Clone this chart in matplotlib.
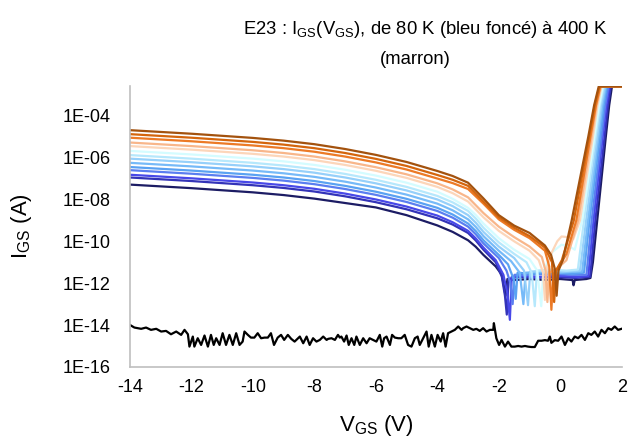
import numpy as np
import matplotlib.pyplot as plt

plt.rcParams['font.family'] = ['Liberation Sans', 'DejaVu Sans']
plt.rcParams['mathtext.fontset'] = 'custom'
plt.rcParams['mathtext.rm'] = 'Liberation Sans'
plt.rcParams['mathtext.default'] = 'regular'

# temperatures, dark blue (80 K) -> brown (400 K)
temps = [80, 100, 125, 150, 175, 200, 225, 250, 275, 300, 325, 350, 375, 400]
colors = ['#1c1c64', '#3333b8', '#4848e8', '#5a7ef0', '#5aa2f2', '#76baf8',
          '#96d0fa', '#b6e8fc', '#d4fcff', '#fcd6ba', '#f8b68a', '#ec7a26',
          '#d4650c', '#a3520e']

# common left part of the sweeps, log10(I_GS)
v_left = [-14, -12, -10, -9, -8, -7, -6, -5, -4, -3.5]
left_log = [
    [-7.29, -7.46, -7.66, -7.79, -7.96, -8.17, -8.38, -8.75, -9.24, -9.55],
    [-6.95, -7.12, -7.32, -7.45, -7.62, -7.85, -8.13, -8.47, -8.90, -9.20],
    [-6.82, -6.99, -7.19, -7.32, -7.49, -7.72, -8.00, -8.34, -8.77, -9.09],
    [-6.60, -6.77, -6.97, -7.10, -7.27, -7.50, -7.78, -8.12, -8.55, -8.87],
    [-6.45, -6.62, -6.82, -6.95, -7.12, -7.35, -7.63, -7.97, -8.40, -8.72],
    [-6.25, -6.42, -6.62, -6.75, -6.92, -7.15, -7.43, -7.77, -8.20, -8.52],
    [-6.05, -6.22, -6.42, -6.55, -6.72, -6.95, -7.23, -7.57, -8.00, -8.32],
    [-5.88, -6.05, -6.25, -6.38, -6.55, -6.78, -7.06, -7.40, -7.83, -8.14],
    [-5.68, -5.85, -6.05, -6.18, -6.35, -6.58, -6.86, -7.20, -7.63, -7.97],
    [-5.45, -5.62, -5.82, -5.95, -6.12, -6.35, -6.63, -6.97, -7.40, -7.70],
    [-5.28, -5.45, -5.65, -5.78, -5.95, -6.18, -6.46, -6.80, -7.23, -7.52],
    [-5.05, -5.22, -5.42, -5.55, -5.72, -5.95, -6.23, -6.57, -7.00, -7.22],
    [-4.88, -5.05, -5.25, -5.38, -5.55, -5.78, -6.06, -6.40, -6.83, -7.06],
    [-4.69, -4.86, -5.06, -5.19, -5.36, -5.59, -5.87, -6.21, -6.64, -6.88],
]

# right part: dip, floor and rise up to compliance
tail_v = [
    [-3, -2.75, -2.5, -2.1, -1.9, -1.78, -1.72, -1.5, -1.0, -0.5, 0.0, 0.4, 0.43, 0.47, 0.85, 0.98, 1.06, 1.20, 1.34, 1.48, 1.59, 1.68, 2.0],
    [-3, -2.75, -2.5, -2.1, -1.9, -1.8, -1.74, -1.68, -1.4, -0.8, -0.2, 0.5, 0.97, 1.14, 1.29, 1.44, 1.55, 1.64, 2.0],
    [-3, -2.75, -2.5, -2.1, -1.85, -1.72, -1.64, -1.58, -1.3, -0.7, 0.0, 0.6, 0.91, 1.08, 1.23, 1.38, 1.50, 1.59, 2.0],
    [-3, -2.75, -2.5, -2.0, -1.75, -1.62, -1.55, -1.49, -1.0, -0.3, 0.4, 0.85, 1.02, 1.18, 1.34, 1.46, 1.56, 2.0],
    [-3, -2.75, -2.5, -2.0, -1.7, -1.52, -1.45, -1.39, -0.9, -0.2, 0.4, 0.77, 0.95, 1.12, 1.29, 1.41, 1.51, 2.0],
    [-3, -2.75, -2.5, -2.0, -1.6, -1.32, -1.2, -1.13, -0.6, 0.0, 0.5, 0.71, 0.90, 1.07, 1.24, 1.37, 1.48, 2.0],
    [-3, -2.75, -2.5, -2.0, -1.5, -1.18, -1.05, -0.98, -0.5, 0.1, 0.64, 0.84, 1.02, 1.20, 1.33, 1.45, 2.0],
    [-3, -2.75, -2.5, -2.0, -1.5, -1.1, -0.93, -0.83, -0.76, -0.3, 0.2, 0.57, 0.77, 0.96, 1.15, 1.29, 1.41, 2.0],
    [-3, -2.75, -2.5, -2.0, -1.5, -1.0, -0.75, -0.62, -0.56, -0.45, -0.25, 0.04, 0.3, 0.47, 0.71, 0.91, 1.11, 1.26, 1.38, 2.0],
    [-3, -2.5, -2.0, -1.5, -1.0, -0.7, -0.56, -0.5, -0.44, -0.3, -0.1, 0.04, 0.25, 0.42, 0.64, 0.85, 1.06, 1.21, 1.34, 2.0],
    [-3, -2.5, -2.0, -1.5, -1.0, -0.6, -0.48, -0.42, -0.36, -0.1, 0.2, 0.58, 0.80, 1.02, 1.18, 1.32, 2.0],
    [-3, -2.5, -2.0, -1.5, -1.0, -0.5, -0.36, -0.29, -0.23, 0.0, 0.2, 0.52, 0.75, 0.98, 1.16, 1.30, 2.0],
    [-3, -2.5, -2.0, -1.5, -1.0, -0.5, -0.27, -0.2, -0.14, 0.05, 0.44, 0.69, 0.94, 1.12, 1.27, 2.0],
    [-3, -2.5, -2.0, -1.5, -1.0, -0.5, -0.3, -0.18, -0.12, -0.06, 0.08, 0.37, 0.64, 0.91, 1.10, 1.25, 2.0],
]
tail_log = [
    [-9.95, -10.26, -10.65, -11.2, -11.6, -12.6, -11.8, -11.85, -11.8, -11.85, -11.8, -11.85, -12.1, -11.85, -11.8, -11.75, -11.0, -9.0, -7.0, -5.0, -3.5, -2.6, -2.6],
    [-9.6, -9.96, -10.4, -11.0, -11.7, -12.6, -13.5, -11.8, -11.7, -11.75, -11.7, -11.75, -11.7, -9.0, -7.0, -5.0, -3.5, -2.6, -2.6],
    [-9.5, -9.86, -10.3, -10.9, -11.6, -12.5, -13.75, -11.7, -11.65, -11.7, -11.65, -11.7, -11.65, -9.0, -7.0, -5.0, -3.5, -2.6, -2.6],
    [-9.3, -9.66, -10.1, -10.8, -11.4, -12.0, -13.0, -11.6, -11.6, -11.55, -11.6, -11.6, -9.0, -7.0, -5.0, -3.5, -2.6, -2.6],
    [-9.15, -9.51, -9.95, -10.65, -11.1, -11.8, -12.75, -11.5, -11.55, -11.5, -11.55, -11.5, -9.0, -7.0, -5.0, -3.5, -2.6, -2.6],
    [-8.95, -9.31, -9.75, -10.45, -10.95, -11.5, -13.0, -11.5, -11.45, -11.5, -11.45, -11.45, -9.0, -7.0, -5.0, -3.5, -2.6, -2.6],
    [-8.75, -9.11, -9.55, -10.25, -10.8, -11.4, -13.05, -11.45, -11.4, -11.45, -11.4, -9.0, -7.0, -5.0, -3.5, -2.6, -2.6],
    [-8.55, -8.91, -9.35, -10.05, -10.6, -11.0, -11.5, -13.1, -11.4, -11.35, -11.4, -11.35, -9.0, -7.0, -5.0, -3.5, -2.6, -2.6],
    [-8.4, -8.74, -9.15, -9.85, -10.4, -10.85, -11.4, -13.1, -11.6, -11.1, -10.5, -10.16, -10.25, -10.4, -9.0, -7.0, -5.0, -3.5, -2.6, -2.6],
    [-8.1, -8.85, -9.5, -10.0, -10.45, -10.9, -11.5, -12.8, -11.3, -10.6, -10.0, -9.77, -9.8, -9.9, -9.0, -7.0, -5.0, -3.5, -2.6, -2.6],
    [-7.9, -8.65, -9.3, -9.8, -10.25, -10.75, -11.4, -12.9, -11.5, -11.3, -10.9, -9.0, -7.0, -5.0, -3.5, -2.6, -2.6],
    [-7.5, -8.2, -8.95, -9.45, -9.85, -10.45, -11.2, -13.27, -11.6, -11.1, -10.6, -9.0, -7.0, -5.0, -3.5, -2.6, -2.6],
    [-7.35, -8.1, -8.85, -9.35, -9.75, -10.3, -11.0, -12.9, -11.4, -10.9, -9.0, -7.0, -5.0, -3.5, -2.6, -2.6],
    [-7.2, -7.95, -8.75, -9.25, -9.6, -10.2, -10.65, -11.3, -12.6, -11.4, -10.9, -9.0, -7.0, -5.0, -3.5, -2.6, -2.6],
]

# noise floor of the setup (black)
black_v = [-14.0, -13.85, -13.63, -13.47, -13.31, -13.14, -12.98, -12.82, -12.66, -12.49,
           -12.33, -12.22, -12.11, -12.06, -11.95, -11.90, -11.79, -11.68, -11.57, -11.46,
           -11.36, -11.27, -11.19, -11.08, -10.98, -10.87, -10.76, -10.65, -10.54, -10.43,
           -10.33, -10.27, -10.16, -10.06, -9.95, -9.84, -9.73, -9.62, -9.51, -9.41,
           -9.31, -9.19, -9.08, -8.98, -8.86, -8.75, -8.64, -8.47, -8.36, -8.25,
           -8.15, -8.04, -7.93, -7.82, -7.71, -7.60, -7.55, -7.44, -7.33, -7.23,
           -7.17, -7.12, -7.03, -6.95, -6.88, -6.79, -6.70, -6.63, -6.52, -6.41,
           -6.30, -6.20, -6.09, -5.98, -5.87, -5.79, -5.73, -5.65, -5.54, -5.47,
           -5.38, -5.27, -5.17, -5.06, -4.95, -4.84, -4.73, -4.64, -4.57, -4.46,
           -4.35, -4.28, -4.19, -4.08, -3.99, -3.89, -3.81, -3.73, -3.65, -3.54,
           -3.43, -3.32, -3.21, -3.16, -3.05, -2.94, -2.83, -2.73, -2.62, -2.51,
           -2.40, -2.29, -2.18, -2.16, -2.08, -1.99, -1.91, -1.80, -1.70, -1.59,
           -1.48, -1.37, -1.26, -1.15, -1.05, -0.94, -0.83, -0.72, -0.61, -0.50,
           -0.40, -0.34, -0.29, -0.18, -0.07, 0.04, 0.15, 0.26, 0.36, 0.47,
           0.58, 0.69, 0.80, 0.91, 1.01, 1.12, 1.23, 1.34, 1.45, 1.56,
           1.66, 1.77, 1.88, 1.99]
black_log = [-13.99, -14.12, -14.18, -14.12, -14.23, -14.18, -14.31, -14.28, -14.44, -14.31,
             -14.47, -14.23, -14.44, -15.03, -14.55, -15.03, -14.63, -14.95, -14.50, -15.03,
             -14.47, -14.95, -14.63, -14.95, -14.39, -14.95, -14.47, -14.95, -14.39, -14.95,
             -14.79, -14.31, -14.47, -14.60, -14.60, -14.39, -14.63, -14.60, -14.60, -14.39,
             -14.95, -14.60, -14.47, -14.71, -14.47, -14.66, -14.79, -14.55, -14.87, -14.55,
             -14.95, -14.63, -14.79, -14.71, -14.55, -14.71, -14.66, -14.63, -14.71, -14.47,
             -14.60, -14.55, -14.79, -14.50, -14.95, -14.63, -14.95, -14.55, -14.95, -14.63,
             -14.87, -14.63, -14.71, -14.79, -14.47, -15.03, -14.63, -14.55, -14.95, -14.47,
             -14.60, -14.63, -14.63, -14.47, -14.95, -15.03, -14.63, -14.55, -14.95, -14.63,
             -14.31, -15.03, -14.47, -15.03, -14.47, -14.79, -14.39, -15.03, -14.39, -14.31,
             -14.23, -14.07, -14.23, -14.15, -14.07, -14.15, -14.23, -14.18, -14.28, -14.15,
             -14.31, -14.23, -14.23, -13.91, -14.63, -14.95, -14.71, -15.03, -14.79, -15.03,
             -15.03, -15.00, -15.03, -15.00, -15.03, -15.05, -15.05, -14.75, -14.75, -14.72,
             -14.75, -14.55, -14.85, -14.72, -14.75, -14.55, -14.95, -14.63, -14.79, -14.55,
             -14.63, -14.47, -14.71, -14.39, -14.47, -14.31, -14.55, -14.23, -14.39, -14.15,
             -14.23, -14.07, -14.23, -14.18]

ytick_vals = [1e-16, 1e-14, 1e-12, 1e-10, 1e-08, 1e-06, 1e-04]
ytick_labels = ['1E-16', '1E-14', '1E-12', '1E-10', '1E-08', '1E-06', '1E-04']
xtick_vals = [-14, -12, -10, -8, -6, -4, -2, 0, 2]

fig = plt.figure(figsize=(6.3, 4.41), dpi=100)
ax = fig.add_axes([0.206, 0.168, 0.781, 0.637])

ax.plot(black_v, 10.0 ** np.array(black_log), color='black', lw=1.6)
for i in range(len(temps)):
    v = v_left + tail_v[i]
    logi = left_log[i] + tail_log[i]
    ax.plot(v, 10.0 ** np.array(logi), color=colors[i], lw=1.6)

ax.set_yscale('log')
ax.set_xlim(-14, 2)
ax.set_ylim(1e-16, 10 ** -2.58)
ax.set_yticks(ytick_vals)
ax.set_yticklabels(ytick_labels)
ax.yaxis.set_minor_locator(plt.NullLocator())
ax.set_xticks(xtick_vals)
ax.set_xticklabels([str(x) for x in xtick_vals])
ax.tick_params(length=0, labelsize=13, colors='black')
ax.tick_params(axis='y', pad=14)
ax.tick_params(axis='x', pad=9)
for s in ['top', 'right']:
    ax.spines[s].set_visible(False)
for s in ['left', 'bottom']:
    ax.spines[s].set_color('#bfbfbf')
    ax.spines[s].set_linewidth(1.2)

ax.set_xlabel('V$_{GS}$ (V)', fontsize=16)
ax.set_ylabel('I$_{GS}$ (A)', fontsize=16)
ax.xaxis.set_label_coords(0.5, -0.165)
ax.yaxis.set_label_coords(-0.195, 0.5)

fig.text(0.675, 0.932, 'E23 : I$_{GS}$(V$_{GS}$), de 80 K (bleu foncé) à 400 K',
         ha='center', va='center', fontsize=13.3)
fig.text(0.66, 0.864, '(marron)', ha='center', va='center', fontsize=13.3)

fig.savefig('out.png', dpi=100)
